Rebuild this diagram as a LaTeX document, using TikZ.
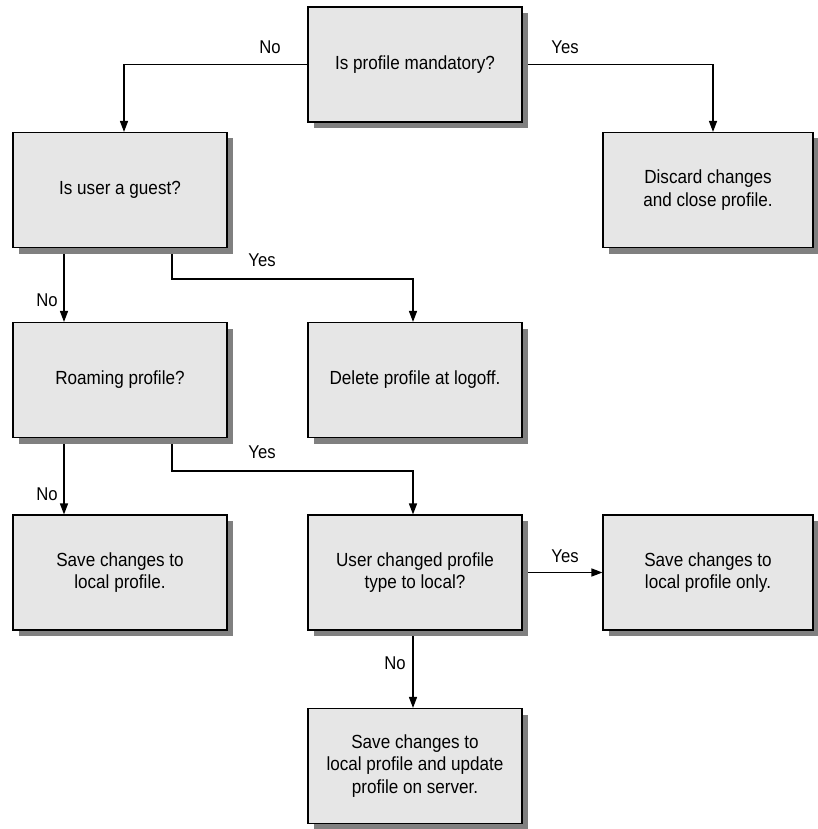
\documentclass[tikz,border=0pt]{standalone}
\usepackage{fontspec}
\setmainfont[FakeStretch=0.9]{Liberation Sans}
\usetikzlibrary{arrows.meta,shadows,calc}
\pgfdeclarelayer{background}
\pgfsetlayers{background,main}
\definecolor{boxfill}{HTML}{E6E6E6}
\definecolor{shadowgray}{HTML}{808080}
\tikzset{
  flowbox/.style={draw=black, line width=1.1pt, fill=boxfill, minimum width=214pt, minimum height=115pt,
    align=center, font=\fontsize{19}{22.5}\selectfont, inner sep=0pt,
    drop shadow={shadow xshift=6pt, shadow yshift=-6pt, fill=shadowgray, opacity=1}},
  narrowbox/.style={flowbox, minimum width=210pt},
  conn/.style={draw=black, line width=1.4pt, -{Triangle[length=11pt,width=8pt]}},
  lbl/.style={font=\fontsize{18.5}{22}\selectfont, inner sep=0pt}
}
\begin{document}
\begin{tikzpicture}[x=1pt,y=-1pt]
\useasboundingbox (0,0) rectangle (818,829);
\node[flowbox] (mand) at (415,64.5) {Is profile mandatory?};
\node[flowbox] (guest) at (120,190) {Is user a guest?};
\node[narrowbox] (discard) at (708,190) {Discard changes\\and close profile.};
\node[flowbox] (del) at (415,380) {Delete profile at logoff.};
\node[flowbox] (roam) at (120,380) {Roaming profile?};
\node[flowbox] (savelocal) at (120,572.5) {Save changes to\\local profile.};
\node[flowbox] (changed) at (415,572.5) {User changed profile\\type to local?};
\node[narrowbox] (saveonly) at (708,572.5) {Save changes to\\local profile only.};
\node[flowbox] (saveboth) at (415,766) {Save changes to\\local profile and update\\profile on server.};
\begin{pgfonlayer}{background}
\draw[conn] (mand.west) -| ([xshift=4pt]guest.north);
\draw[conn] (mand.east) -| ([xshift=5pt]discard.north);
\draw[conn] ([xshift=-56pt]guest.south) -- ([xshift=-56pt]roam.north);
\draw[conn] ([xshift=52pt]guest.south) -- ++(0,31) coordinate (g1) -| ([xshift=-2pt]del.north);
\draw[conn] ([xshift=-56pt]roam.south) -- ([xshift=-56pt]savelocal.north);
\draw[conn] ([xshift=52pt]roam.south) -- ++(0,33) coordinate (r1) -| ([xshift=-2pt]changed.north);
\draw[conn] (changed.east) -- (saveonly.west);
\draw[conn] ([xshift=-2pt]changed.south) -- ([xshift=-2pt]saveboth.north);
\end{pgfonlayer}
\node[lbl] (l1) at (270,47) {No};
\node[lbl] (l2) at (565,47) {Yes};
\node[lbl] (l3) at (47,300) {No};
\node[lbl] (l4) at (262,260) {Yes};
\node[lbl] (l5) at (47,494) {No};
\node[lbl] (l6) at (262,452) {Yes};
\node[lbl] (l7) at (565,556) {Yes};
\node[lbl] (l8) at (395,663) {No};
\end{tikzpicture}
\end{document}
